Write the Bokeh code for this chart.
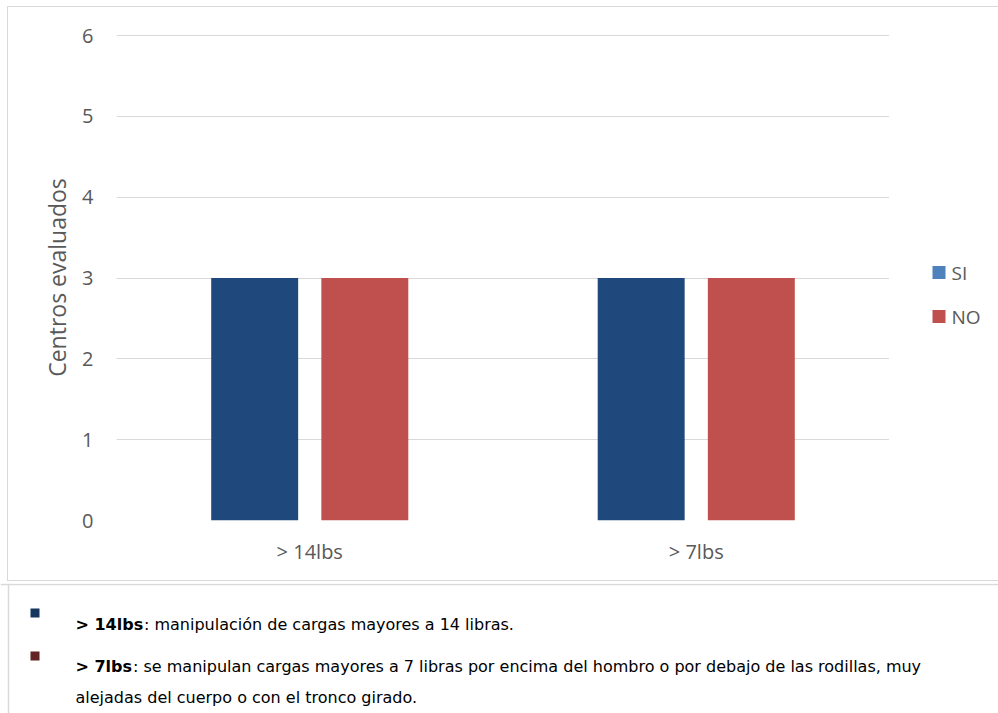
from bokeh.plotting import figure
from bokeh.models import ColumnDataSource, FactorRange, Range1d, InlineStyleSheet
from bokeh.transform import dodge
from bokeh.layouts import column, row
from bokeh.core.properties import value
from bokeh.embed import file_html
from bokeh.resources import INLINE

# --- data -------------------------------------------------------------
categories = ["> 14lbs", "> 7lbs"]
series = ["SI", "NO"]
si_values = [3, 3]
no_values = [3, 3]
y_ticks = [0, 1, 2, 3, 4, 5, 6]

note_bold = ["> 14lbs", "> 7lbs"]
note_text = [
    ": manipulación de cargas mayores a 14 libras.",
    ": se manipulan cargas mayores a 7 libras por encima del hombro o por debajo de las rodillas, muy",
]
note_wrap = "alejadas del cuerpo o con el tronco girado."

# --- style ------------------------------------------------------------
FONT = "Open Sans"
TXT = "#595959"
GRID = "#D9D9D9"
BAR_COLORS = ["#1F497D", "#C0504D"]
KEY_COLORS = ["#4F81BD", "#C0504D"]
BULLET_COLORS = ["#17365D", "#632423"]

src = ColumnDataSource(dict(cat=categories, si=si_values, no=no_values))

# --- bar chart --------------------------------------------------------
p = figure(width=889, height=583, x_range=FactorRange(factors=categories),
           y_range=Range1d(0, 6.0125), output_backend="svg", toolbar_location=None,
           min_border_left=116, min_border_right=0, min_border_top=34,
           min_border_bottom=63)
p.frame_align = False
p.outline_line_color = None
p.background_fill_color = "white"
p.border_fill_color = "white"

bar_w = 0.225
off = 0.1425
p.vbar(x=dodge("cat", -off, range=p.x_range), top="si", width=bar_w,
       source=src, fill_color=BAR_COLORS[0], line_color=None)
p.vbar(x=dodge("cat", off, range=p.x_range), top="no", width=bar_w,
       source=src, fill_color=BAR_COLORS[1], line_color=None)

p.yaxis.ticker = y_ticks
p.yaxis.axis_line_color = None
p.yaxis.major_tick_line_color = None
p.yaxis.minor_tick_line_color = None
p.yaxis.major_label_standoff = 17
p.yaxis.major_label_text_font = FONT
p.yaxis.major_label_text_font_size = "20px"
p.yaxis.major_label_text_color = TXT
p.yaxis.axis_label = "Centros evaluados"
p.yaxis.axis_label_text_font = FONT
p.yaxis.axis_label_text_font_size = "23px"
p.yaxis.axis_label_text_font_style = "normal"
p.yaxis.axis_label_text_color = TXT
p.yaxis.axis_label_standoff = 6

p.xaxis.axis_line_color = None
p.xaxis.major_tick_line_color = None
p.xaxis.minor_tick_line_color = None
p.xaxis.major_label_standoff = 11
p.xaxis.major_label_text_font = FONT
p.xaxis.major_label_text_font_size = "20px"
p.xaxis.major_label_text_color = TXT

p.xgrid.grid_line_color = None
p.ygrid.grid_line_color = GRID
p.ygrid.grid_line_width = 1

# --- legend column (pixel coordinates) ---------------------------------
lg = figure(width=109, height=583, x_range=Range1d(889, 998), y_range=Range1d(583, 0),
            output_backend="svg", toolbar_location=None, min_border=0)
lg.frame_align = False
lg.axis.visible = False
lg.grid.visible = False
lg.outline_line_color = None
lg.border_fill_color = "white"
lg.background_fill_color = "white"

key_y = [272, 316]
lg.rect(x=[938.5] * len(series), y=key_y, width=13, height=13,
        fill_color=KEY_COLORS, line_color=None)
lg.text(x=[951] * len(series), y=key_y, text=series, text_font=value(FONT),
        text_font_size="19px", text_color=TXT, text_baseline="middle")

top = row(p, lg, spacing=0)
# light frame around the chart area
top.stylesheets = [InlineStyleSheet(css="""
:host { position: relative; }
:host::after {
  content: ''; position: absolute; left: 7px; top: 6px;
  width: 991px; height: 575px; box-sizing: border-box;
  border: 1.5px solid #D9D9D9; border-right: none; pointer-events: none;
}
""")]

# --- notes below the chart -------------------------------------------
n = figure(width=998, height=130, x_range=Range1d(0, 998), y_range=Range1d(130, 0),
           output_backend="svg", toolbar_location=None, min_border=0)
n.frame_align = False
n.axis.visible = False
n.grid.visible = False
n.outline_line_color = None
n.border_fill_color = "white"
n.background_fill_color = "white"

n.segment(x0=[0, 8], y0=[1, 0], x1=[998, 8], y1=[1, 130],
          line_color=GRID, line_width=1.5)

n.rect(x=[34.5, 34.5], y=[29.5, 72.5], width=9, height=9,
       fill_color=BULLET_COLORS, line_color=None)

NFONT = "DejaVu Sans"
n.text(x=[75, 75], y=[41, 83], text=note_bold, text_font=value(NFONT),
       text_font_style="bold", text_font_size="16px", text_color="black",
       text_baseline="alphabetic")
n.text(x=[143.5, 132.5], y=[41, 83], text=note_text, text_font=value(NFONT),
       text_font_size="16px", text_color="black", text_baseline="alphabetic")
n.text(x=[75], y=[114], text=[note_wrap], text_font=value(NFONT),
       text_font_size="16px", text_color="black", text_baseline="alphabetic")

layout = column(top, n, spacing=0)
open("out.html", "w").write(file_html(layout, INLINE))
